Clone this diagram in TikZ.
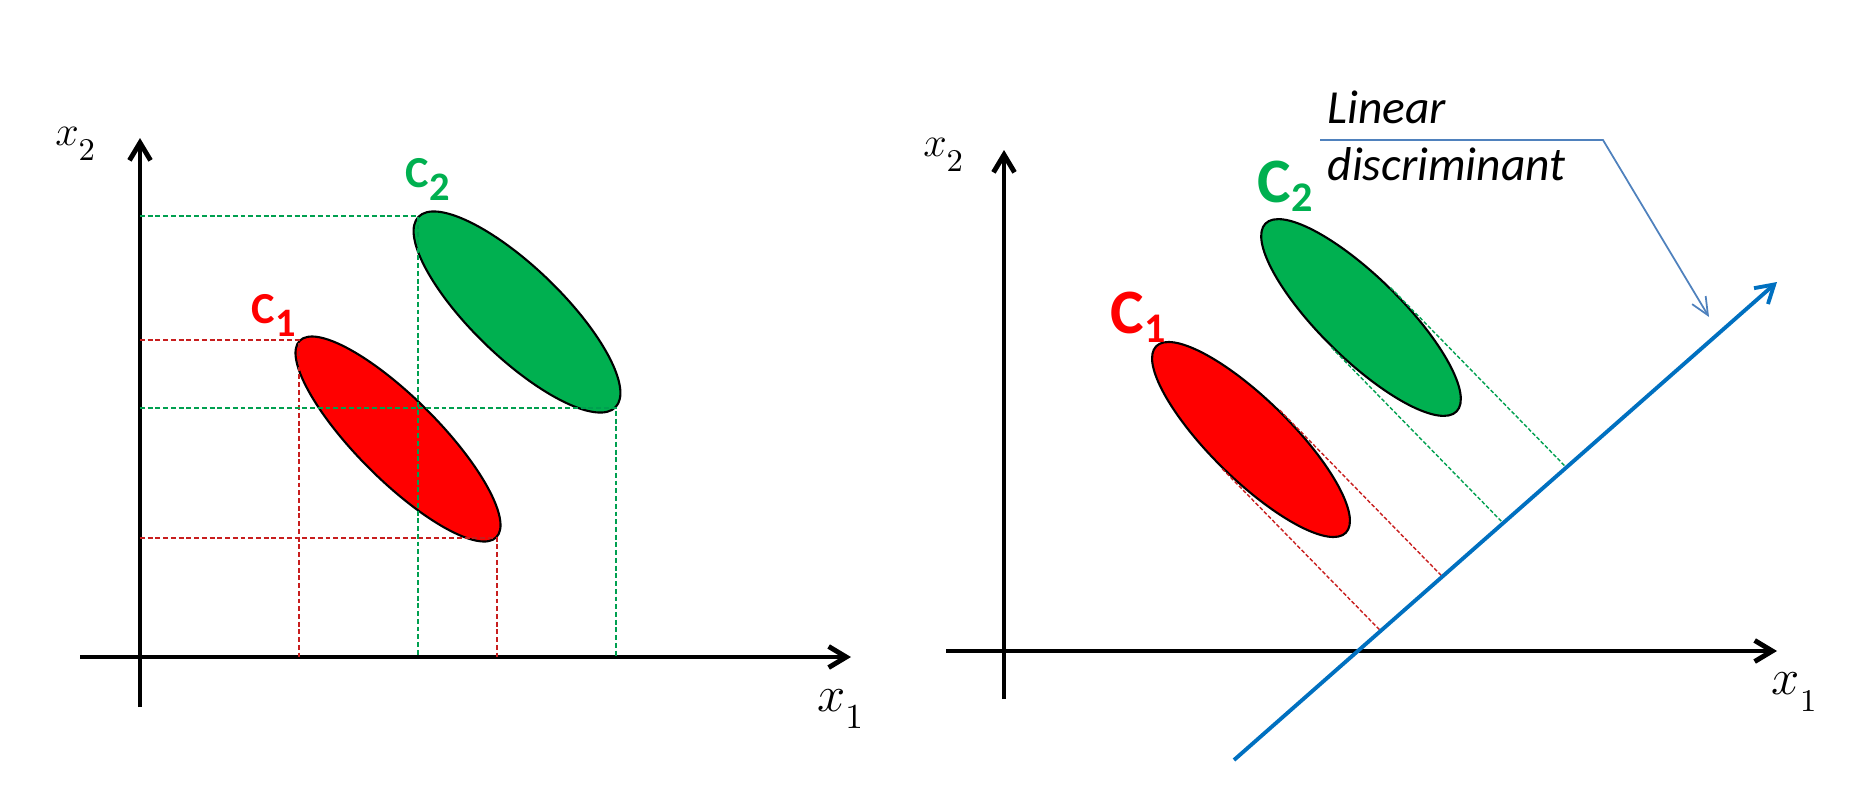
\documentclass[tikz,border=0pt]{standalone}
\usepackage{fontspec}
\setsansfont{Carlito}
\usetikzlibrary{arrows.meta,shapes.geometric,calc}
\definecolor{cred}{HTML}{FF0000}
\definecolor{cgreen}{HTML}{00B050}
\definecolor{dred}{HTML}{C81E1E}
\definecolor{dgreen}{HTML}{00A050}
\definecolor{lblue}{HTML}{0070C0}
\definecolor{cblue}{HTML}{4F81BD}
\newcommand{\csub}[3]{C\raisebox{-#2}{\fontsize{#3}{#3}\selectfont #1}}
\newcommand{\xax}[1]{$x_{\lower 2.5pt\hbox{$\scriptstyle #1$}}$}

\begin{document}
\begin{tikzpicture}[
  axis/.style={line width=1.4pt, -{Straight Barb[length=5pt,width=6pt]}},
  blob/.style={ellipse, draw, line width=0.6pt, inner sep=0pt},
  proj/.style={line width=0.5pt, dash pattern=on 1.4pt off 0.8pt},
  cls/.style={inner sep=0pt, anchor=base west, font=\sffamily\bfseries\fontsize{#1}{#1}\selectfont},
  axlab/.style={inner sep=0pt, font=\fontsize{#1}{#1}\selectfont}]
\useasboundingbox (0,0) rectangle (18.68,8.10);
\coordinate (O1) at (1.40,1.53);
\draw[axis] (1.40,1.03) -- (1.40,6.72);
\draw[axis] (0.80,1.53) -- (8.51,1.53);
\node[axlab=13] (x2a) at (0.76,6.66) {\xax{2}};
\node[axlab=14] (x1a) at (8.41,1.01) {\xax{1}};
\node[blob, fill=cred, rotate=-45, minimum width=2.78cm, minimum height=0.82cm] (c1a) at (3.98,3.71) {};
\node[blob, fill=cgreen, rotate=-44, minimum width=2.74cm, minimum height=0.90cm] (c2a) at (5.17,4.98) {};
\foreach \e/\c in {c1a/dred, c2a/dgreen}
  \foreach \t in {west,east}
    \draw[proj, \c] (\e.\t -| O1) -- (\e.\t) -- (\e.\t |- O1);
\node[cls=12.6, cred] (c1alab) at (2.51,4.87) {\csub{1}{3.7pt}{11.5}};
\node[cls=12.6, cgreen] (c2alab) at (4.05,6.23) {\csub{2}{3.7pt}{11.5}};

\coordinate (O2) at (10.04,1.59);
\draw[axis] (10.04,1.11) -- (10.04,6.60);
\draw[axis] (9.46,1.59) -- (17.77,1.59);
\node[axlab=13] (x2b) at (9.44,6.55) {\xax{2}};
\node[axlab=13.5] (x1b) at (17.95,1.18) {\xax{1}};
\coordinate (d1) at (12.34,0.50);
\coordinate (d2) at (17.77,5.28);
\node[blob, fill=cred, rotate=-44.5, minimum width=2.66cm, minimum height=0.80cm] (c1b) at (12.51,3.705) {};
\node[blob, fill=cgreen, rotate=-44.5, minimum width=2.68cm, minimum height=0.82cm] (c2b) at (13.61,4.925) {};
\foreach \e/\c in {c1b/dred, c2b/dgreen}
  \foreach \t in {north,south} {
    \coordinate (p) at (\e.\t);
    \coordinate (q) at ($(p)+(-45.7:1)$);
    \draw[proj, \c, line width=0.4pt, dash pattern=on 1.1pt off 0.6pt] (p) -- (intersection of p--q and d1--d2);
  }
\draw[lblue, line width=1.1pt, -{Straight Barb[length=5pt,width=6pt]}] (d1) -- (d2);
\node[cls=18, cred] (c1blab) at (11.10,4.77) {\csub{1}{2.8pt}{12}};
\node[cls=18, cgreen] (c2blab) at (12.57,6.08) {\csub{2}{2.8pt}{12}};
\node[inner sep=0pt, anchor=base west, font=\sffamily\itshape\fontsize{13.5}{16}\selectfont] (lin1) at (13.27,6.87) {Linear};
\node[inner sep=0pt, anchor=base west, font=\sffamily\itshape\fontsize{13.5}{16}\selectfont] (lin2) at (13.27,6.30) {discriminant};
\coordinate (k1) at (13.20,6.70);
\coordinate (k2) at (16.03,6.70);
\coordinate (k3) at (17.09,4.93);
\draw[cblue, line width=0.5pt, -{Straight Barb[length=5pt,width=4.5pt]}] (k1) -- (k2) -- (k3);
\end{tikzpicture}
\end{document}
